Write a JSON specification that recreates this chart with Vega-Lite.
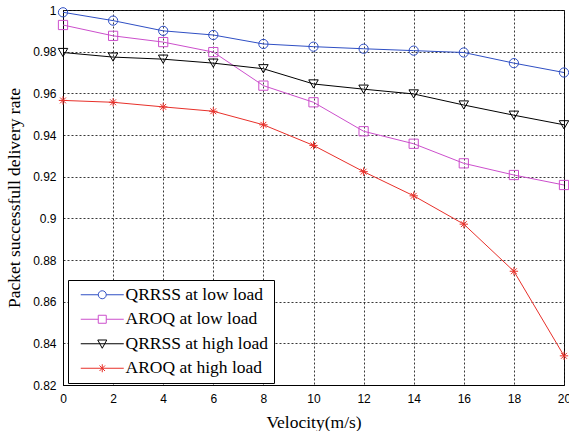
{
  "$schema": "https://vega.github.io/schema/vega-lite/v6.json",
  "width": 501,
  "height": 375,
  "autosize": {"type": "none"},
  "padding": {"left": 63, "top": 10, "right": 5, "bottom": 46},
  "background": "white",
  "config": {
    "view": {"stroke": "black", "strokeWidth": 1},
    "axis": {
      "labelFont": "Liberation Sans",
      "labelFontSize": 12,
      "labelColor": "black",
      "titleFont": "Liberation Serif",
      "titleFontSize": 17.5,
      "titleFontWeight": "normal",
      "titleColor": "black",
      "domainColor": "black",
      "ticks": false,
      "gridColor": "#222",
      "gridDash": [2, 2],
      "gridOpacity": 0.9,
      "gridWidth": 1
    },
    "legend": {
      "orient": "none",
      "legendX": 5,
      "legendY": 270,
      "strokeColor": "black",
      "fillColor": "white",
      "padding": 6,
      "symbolSize": 100,
      "symbolStrokeWidth": 1,
      "symbolFillColor": "transparent",
      "symbolOpacity": 1,
      "labelFont": "Liberation Serif",
      "labelFontSize": 17.5,
      "labelColor": "black",
      "labelLimit": 300,
      "labelOffset": 34,
      "rowPadding": 5.5
    }
  },
  "data": {
    "values": [
      {"v": 0, "rate": 0.9989, "series": "QRRSS at low load"},
      {"v": 2, "rate": 0.9949, "series": "QRRSS at low load"},
      {"v": 4, "rate": 0.9900, "series": "QRRSS at low load"},
      {"v": 6, "rate": 0.9880, "series": "QRRSS at low load"},
      {"v": 8, "rate": 0.9837, "series": "QRRSS at low load"},
      {"v": 10, "rate": 0.9824, "series": "QRRSS at low load"},
      {"v": 12, "rate": 0.9814, "series": "QRRSS at low load"},
      {"v": 14, "rate": 0.9805, "series": "QRRSS at low load"},
      {"v": 16, "rate": 0.9796, "series": "QRRSS at low load"},
      {"v": 18, "rate": 0.9745, "series": "QRRSS at low load"},
      {"v": 20, "rate": 0.9700, "series": "QRRSS at low load"},
      {"v": 0, "rate": 0.9928, "series": "AROQ at low load"},
      {"v": 2, "rate": 0.9876, "series": "AROQ at low load"},
      {"v": 4, "rate": 0.9846, "series": "AROQ at low load"},
      {"v": 6, "rate": 0.9798, "series": "AROQ at low load"},
      {"v": 8, "rate": 0.9637, "series": "AROQ at low load"},
      {"v": 10, "rate": 0.9557, "series": "AROQ at low load"},
      {"v": 12, "rate": 0.9418, "series": "AROQ at low load"},
      {"v": 14, "rate": 0.9358, "series": "AROQ at low load"},
      {"v": 16, "rate": 0.9264, "series": "AROQ at low load"},
      {"v": 18, "rate": 0.9208, "series": "AROQ at low load"},
      {"v": 20, "rate": 0.9160, "series": "AROQ at low load"},
      {"v": 0, "rate": 0.9796, "series": "QRRSS at high load"},
      {"v": 2, "rate": 0.9774, "series": "QRRSS at high load"},
      {"v": 4, "rate": 0.9764, "series": "QRRSS at high load"},
      {"v": 6, "rate": 0.9745, "series": "QRRSS at high load"},
      {"v": 8, "rate": 0.9718, "series": "QRRSS at high load"},
      {"v": 10, "rate": 0.9645, "series": "QRRSS at high load"},
      {"v": 12, "rate": 0.9620, "series": "QRRSS at high load"},
      {"v": 14, "rate": 0.9597, "series": "QRRSS at high load"},
      {"v": 16, "rate": 0.9544, "series": "QRRSS at high load"},
      {"v": 18, "rate": 0.9495, "series": "QRRSS at high load"},
      {"v": 20, "rate": 0.9449, "series": "QRRSS at high load"},
      {"v": 0, "rate": 0.9566, "series": "AROQ at high load"},
      {"v": 2, "rate": 0.9557, "series": "AROQ at high load"},
      {"v": 4, "rate": 0.9535, "series": "AROQ at high load"},
      {"v": 6, "rate": 0.9514, "series": "AROQ at high load"},
      {"v": 8, "rate": 0.9449, "series": "AROQ at high load"},
      {"v": 10, "rate": 0.9350, "series": "AROQ at high load"},
      {"v": 12, "rate": 0.9224, "series": "AROQ at high load"},
      {"v": 14, "rate": 0.9108, "series": "AROQ at high load"},
      {"v": 16, "rate": 0.8972, "series": "AROQ at high load"},
      {"v": 18, "rate": 0.8746, "series": "AROQ at high load"},
      {"v": 20, "rate": 0.8340, "series": "AROQ at high load"}
    ]
  },
  "encoding": {
    "x": {
      "field": "v",
      "type": "quantitative",
      "scale": {"domain": [0, 20], "nice": false},
      "axis": {
        "values": [0, 2, 4, 6, 8, 10, 12, 14, 16, 18, 20],
        "title": "Velocity(m/s)",
        "labelPadding": 8,
        "titlePadding": 9,
        "labelFlush": false
      }
    },
    "y": {
      "field": "rate",
      "type": "quantitative",
      "scale": {"domain": [0.82, 1], "nice": false, "zero": false},
      "axis": {
        "values": [0.82, 0.84, 0.86, 0.88, 0.9, 0.92, 0.94, 0.96, 0.98, 1],
        "format": ".2~f",
        "title": "Packet successfull delivery rate",
        "labelPadding": 7,
        "titlePadding": 9,
        "labelFlush": false
      }
    },
    "color": {
      "field": "series",
      "type": "nominal",
      "scale": {
        "domain": ["QRRSS at low load", "AROQ at low load", "QRRSS at high load", "AROQ at high load"],
        "range": ["#2f4fc4", "#cc4fcc", "#000000", "#e8302a"]
      },
      "legend": {
        "title": null,
        "encode": {
          "symbols": {
            "update": {
              "shape": {
                "signal": "datum.value === 'QRRSS at low load' ? 'M-0.4,0L3.1,0M4.7,0L8.2,0M3.1,0A0.8,0.8,0,1,1,4.7,0A0.8,0.8,0,1,1,3.1,0' : datum.value === 'AROQ at low load' ? 'M-0.4,0L3.1,0M4.7,0L8.2,0M3.1,-0.8L4.7,-0.8L4.7,0.8L3.1,0.8Z' : datum.value === 'QRRSS at high load' ? 'M-0.4,0L8.2,0M3.0,-0.75L4.8,-0.75L3.9,0.9Z' : 'M-0.4,0L8.2,0M3.9,-0.8L3.9,0.8M3.35,-0.55L4.45,0.55M3.35,0.55L4.45,-0.55'"
              }
            }
          }
        }
      }
    }
  },
  "layer": [
    {
      "mark": {"type": "line", "strokeWidth": 1, "opacity": 1}
    },
    {
      "transform": [{"filter": "datum.series === 'QRRSS at low load'"}],
      "mark": {"type": "point", "shape": "circle", "filled": false, "size": 85, "strokeWidth": 1, "opacity": 1}
    },
    {
      "transform": [{"filter": "datum.series === 'AROQ at low load'"}],
      "mark": {"type": "point", "shape": "square", "filled": false, "size": 85, "strokeWidth": 1, "opacity": 1}
    },
    {
      "transform": [{"filter": "datum.series === 'QRRSS at high load'"}],
      "mark": {"type": "point", "shape": "triangle-down", "filled": false, "size": 90, "strokeWidth": 1, "opacity": 1}
    },
    {
      "transform": [{"filter": "datum.series === 'AROQ at high load'"}],
      "mark": {"type": "point", "shape": "M-1,0L1,0M0,-1L0,1M-0.7,-0.7L0.7,0.7M-0.7,0.7L0.7,-0.7", "filled": false, "size": 70, "strokeWidth": 1, "opacity": 1}
    }
  ]
}
